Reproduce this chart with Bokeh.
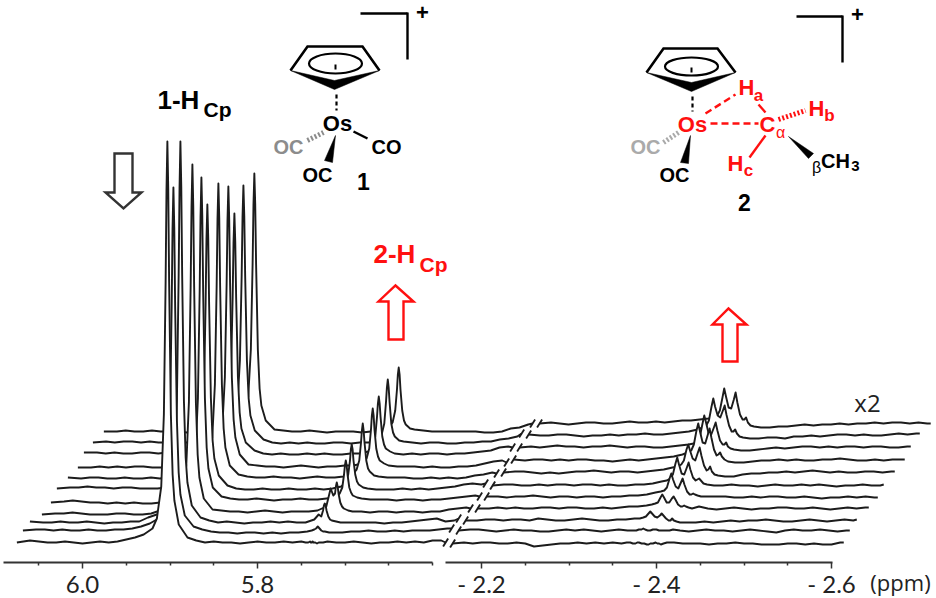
from bokeh.plotting import figure
from bokeh.models import LinearAxis, FixedTicker, Range1d
from bokeh.core.properties import value
from bokeh.embed import file_html
from bokeh.resources import INLINE

# ---------- axis ----------
major_ppm_left = [6.0, 5.8]
major_ppm_right = [-2.2, -2.4, -2.6]
minor_ppm_left = [6.05, 5.95, 5.9, 5.85, 5.75, 5.7, 5.65, 5.6]
minor_ppm_right = [-2.25, -2.3, -2.35, -2.45, -2.5, -2.55]
major_labels = ["6.0", "5.8", "- 2.2", "- 2.4", "- 2.6"]
panel_gap = 0.456            # axis length kept for the section left of the break

# ---------- shared chemical-shift grids ----------
ppm_left = [6.075, 6.06, 6.05, 6.04, 6.03, 6.02, 6.01, 6.00, 5.99, 5.98, 5.97, 5.96, 5.95,
            5.94, 5.93, 5.92, 5.915, 5.91, 5.907, 5.905, 5.904, 5.903, 5.902, 5.901, 5.899, 5.897, 5.895, 5.89, 5.88, 5.87,
            5.86, 5.85, 5.84, 5.83, 5.82, 5.81, 5.80, 5.79, 5.78, 5.77,
            5.76, 5.75, 5.745, 5.742, 5.74, 5.739, 5.738, 5.737, 5.736, 5.734, 5.732, 5.73, 5.725, 5.72, 5.71,
            5.70, 5.69, 5.68, 5.67, 5.66, 5.65, 5.64, 5.63, 5.62, 5.61, 5.60, 5.59, 5.585]
ppm_right = [-2.167, -2.18, -2.19, -2.20, -2.21, -2.22, -2.23, -2.24, -2.25, -2.26, -2.27, -2.28, -2.29, -2.30, -2.31, -2.32, -2.33, -2.34, -2.35,
             -2.36, -2.366, -2.37, -2.373, -2.376, -2.378, -2.38, -2.383, -2.386, -2.389, -2.391, -2.393, -2.396, -2.399, -2.401, -2.403, -2.405, -2.408, -2.412, -2.42, -2.43,
             -2.44, -2.45, -2.46, -2.47, -2.48, -2.49, -2.50, -2.51, -2.52, -2.53, -2.54, -2.55, -2.56, -2.57, -2.58, -2.59, -2.60, -2.61, -2.614]

# ---------- stacking of the eleven spectra (front to back) ----------
stack_shift_ppm = [0, .0069, .0149, .0286, .0389, .0457, .0583, .0697, .0766, .0869, .0994]
stack_base_left = [20, 32, 40, 48, 60, 74, 84, 95, 109, 120, 130]
stack_base_right = [19, 32, 42, 54, 65, 77, 90, 102, 115, 127, 139]

# ---------- intensities, 1-HCp / 2-HCp section ----------
left_t01 = [0, 2, 1, 0, 0, 1, 0, -1, 0, 1, 0, 1, 3,
            5, 8, 14, 24, 56, 128, 261, 353, 401, 353, 261, 128, 68, 42, 18, 5, 2,
            0, 1, 0, 0, -1, 0, 1, 0, 0, 1,
            0, 1, 0, 0, 1, 0, 0, 1, 0, 0, -1, 0, 0, 1, 0,
            0, 1, 0, -1, 0, 0, 1, 0, 1, 0, 2, 2, 0]
left_t02 = [0, 1, 1, 0, 1, 0, 0, 1, 0, 0, 1, 1, 2,
            4, 7, 12, 21, 48, 110, 223, 302, 343, 302, 223, 110, 58, 36, 15, 4, 1,
            -1, -2, -2, -3, -2, -2, -3, -2, -3, -2,
            -2, -1, 0, 1, 2, 3, 4, 3, 2, 0, -1, -1, -2, -2, -2,
            -1, -1, 0, -1, -1, 0, -1, 0, 0, 0, 1, 2, 2]
left_t03 = [1, 0, 0, 1, 0, 0, 1, 0, -1, 0, 0, 1, 1,
            5, 8, 13, 23, 53, 122, 248, 335, 381, 335, 248, 122, 65, 40, 17, 5, 2,
            0, 1, 0, -1, 0, 0, 1, 0, 1, 0,
            0, 3, 8, 6, 12, 17, 19, 17, 12, 6, 3, 2, 1, 0, 0,
            0, 0, 0, -1, 0, 0, 1, 2, 3, 4, 1, 2, 4]
left_t04 = [0, 1, 1, 2, 1, 0, 0, 0, 1, 1, 0, 0, 1,
            4, 7, 12, 21, 49, 112, 228, 308, 350, 308, 228, 112, 60, 37, 16, 5, 4,
            3, 3, 2, 3, 4, 3, 2, 3, 3, 3,
            4, 8, 26, 19, 21, 28, 32, 28, 21, 12, 8, 6, 4, 3, 3,
            2, 3, 3, 2, 3, 3, 2, 3, 3, 5, 6, 7, 6]
left_t05 = [0, 1, 2, 1, 0, 0, -1, 0, -1, 0, -1, -1, 0,
            4, 7, 11, 20, 46, 104, 211, 286, 325, 286, 211, 104, 55, 34, 15, 6, 4,
            3, 3, 4, 3, 2, 3, 3, 4, 3, 3,
            4, 5, 9, 15, 28, 37, 42, 37, 28, 15, 10, 7, 5, 4, 3,
            3, 3, 2, 3, 3, 2, 3, 3, 4, 5, 6, 7, 6]
left_t06 = [0, 1, 1, 2, 1, 1, 0, 1, 1, 0, 0, 0, 1,
            3, 6, 10, 17, 40, 91, 185, 250, 284, 250, 185, 91, 48, 30, 13, 3, 0,
            -1, -1, 0, -1, -1, 0, -1, -1, 0, -1,
            0, 2, 6, 14, 28, 39, 44, 39, 28, 14, 7, 4, 1, 0, -1,
            -1, -1, 0, -1, 0, -1, 0, 1, 2, 4, 5, 4, 5]
left_t07 = [1, 0, 1, 1, 0, 0, 1, 0, 0, 1, 0, 1, 1,
            4, 6, 10, 18, 41, 94, 192, 260, 295, 260, 192, 94, 50, 31, 13, 4, 2,
            1, 1, 2, 1, 1, 0, 1, 2, 1, 1,
            2, 4, 9, 18, 36, 48, 55, 48, 36, 18, 10, 7, 3, 2, 1,
            1, 1, 0, 0, 1, 0, 1, 0, 1, 3, 4, 6, 5]
left_t08 = [0, 0, 1, 0, 1, 0, 1, 1, 0, 0, 1, 0, 1,
            3, 6, 10, 17, 39, 90, 183, 247, 281, 247, 183, 90, 48, 30, 13, 3, 2,
            1, 1, 0, 1, 2, 1, 0, 1, 1, 2,
            2, 4, 9, 19, 38, 52, 59, 52, 38, 19, 11, 7, 4, 2, 1,
            1, 1, 0, 1, 0, 0, 1, 1, 2, 4, 6, 7, 5]
left_t09 = [1, 1, 0, 1, 0, 0, 1, 1, 0, 1, 0, 0, 1,
            3, 5, 8, 14, 34, 77, 156, 211, 240, 211, 156, 77, 41, 25, 11, 3, 0,
            -1, 0, -1, -1, 0, -1, 0, -1, -1, 0,
            0, 2, 7, 17, 37, 50, 57, 50, 37, 17, 9, 5, 2, 0, -1,
            0, -1, 0, 0, -1, 0, 0, 1, 2, 3, 6, 7, 6]
left_t10 = [0, 1, 0, 1, 1, 0, 1, 0, 0, 1, 0, 0, 1,
            3, 5, 9, 15, 36, 82, 167, 226, 257, 226, 167, 82, 44, 27, 12, 3, 0,
            -1, 0, -1, 0, -1, -1, 0, 0, -1, 0,
            0, 2, 8, 19, 41, 55, 63, 55, 41, 19, 10, 6, 2, 1, 0,
            -1, 0, 0, -1, -1, 0, 0, 1, 1, 3, 4, 6, 9]
left_t11 = [1, 1, 2, 1, 1, 2, 1, 1, 1, 0, 0, 0, 1,
            3, 5, 9, 16, 36, 83, 168, 228, 259, 228, 168, 83, 44, 27, 12, 3, 2,
            1, 1, 2, 1, 0, 1, 1, 1, 0, 1,
            2, 4, 10, 22, 43, 58, 65, 58, 43, 22, 12, 8, 4, 3, 2,
            1, 1, 1, 1, 1, 1, 0, 0, 1, 4, 5, 8, 9]

# ---------- intensities, hydride section (x2) ----------
right_t01 = [0, 1, 0, 1, 1, 0, 0, 1, 0, -3, -2, -1, 0, 0, 1, 0, 1, 0, 1,
             0, 1, 1, 0, 0, 1, 1, 0, 0, -1, -1, 0, 0, 1, 0, 0, -1, 0, 1, 1, 0,
             0, 0, -1, 0, 0, 1, 0, 0, -1, -1, -1, 0, 0, -1, 0, -1, -1, 1, 1]
right_t02 = [0, 1, 1, 0, -1, 0, 1, 0, 0, -1, -1, 0, 1, 0, 1, 0, -1, 0, 1,
             0, 0, 0, 1, 1, 2, 1, 0, 0, 1, 1, 1, 0, 0, 0, 0, 0, 0, 1, 0, -1,
             0, 1, 0, 0, -1, 0, 1, 0, -1, -2, 0, 1, 0, 0, 1, 0, -1, 0, 0]
right_t03 = [0, 0, 1, 1, 0, 1, 1, 0, 2, 1, 0, 0, 1, 2, 1, 0, 0, 1, 1,
             2, 2, 3, 4, 7, 9, 7, 4, 3, 5, 7, 5, 2, 0, 0, 2, 0, -1, -2, -2, -2,
             -1, -2, -1, 0, -1, 0, 0, 1, 0, -1, -1, 0, 1, 0, -1, 0, 1, 0, 1]
right_t04 = [0, 0, 1, 0, 1, 0, 0, 1, 1, 0, 1, 1, 0, 0, 1, 0, 1, 2, 2,
             3, 4, 5, 6, 11, 14, 11, 6, 6, 10, 12, 9, 4, 2, 2, 3, 2, 1, 0, 2, 0,
             -1, 0, 1, 0, -1, 0, 0, 1, 1, 0, 0, 1, 0, -1, 0, 1, 0, 1, 1]
right_t05 = [1, 1, 0, 1, 1, 2, 1, 0, 1, 1, 0, 1, 1, 0, 1, 1, 2, 2, 3,
             5, 6, 7, 10, 19, 24, 18, 11, 9, 15, 19, 13, 6, 3, 3, 4, 3, 2, 1, 1, 1,
             1, 0, 0, 1, 0, 1, 1, 0, 0, 1, 0, -1, 0, 0, 1, 0, 1, 0, 0]
right_t06 = [0, 1, 1, 0, 0, 1, 0, 1, 1, 0, 1, 1, 0, 1, 0, 0, 1, 1, 2,
             4, 5, 7, 11, 22, 28, 21, 12, 11, 18, 23, 16, 8, 5, 6, 7, 5, 2, 1, 0, 0,
             1, 0, 0, -1, 0, 1, 0, 0, 1, 0, 1, 0, -1, 0, 0, 1, 0, 0, 1]
right_t07 = [0, 1, 1, 0, -1, 0, -1, 0, 1, 1, 2, 1, 0, 1, 1, 0, 1, 2, 3,
             5, 6, 8, 12, 23, 28, 22, 14, 12, 20, 25, 17, 7, 2, 3, 6, 1, -2, -3, -4, -4,
             -2, -1, -1, 0, 0, 1, 0, 1, 2, 1, 0, 1, 0, 0, 1, 1, 0, 1, 1]
right_t08 = [1, 0, 1, 1, 0, 1, 0, 1, 1, 0, 0, -1, 0, 1, 0, 1, 2, 3, 4,
             6, 8, 10, 16, 30, 37, 29, 18, 17, 26, 32, 23, 11, 5, 6, 8, 4, 1, -1, -2, -2,
             -1, 0, 0, 1, 0, 1, 0, 0, 1, 1, 2, 1, 0, 0, 1, 0, 1, 1, 1]
right_t09 = [0, 1, 0, 1, 2, 1, 1, 0, 1, 1, 2, 1, 0, 1, 1, 0, 0, 1, 2,
             3, 4, 6, 11, 24, 32, 25, 14, 13, 20, 25, 17, 7, 3, 3, 5, 1, -1, -2, -3, -3,
             -2, -1, 0, -1, 0, 1, 1, 0, 1, 0, 1, 1, 0, 1, 1, 0, 0, 1, 1]
right_t10 = [1, 0, 0, 1, 1, 0, -1, 0, 0, 1, 0, 1, 1, 2, 1, 1, 2, 3, 4,
             6, 8, 10, 15, 29, 37, 29, 20, 18, 25, 30, 21, 10, 4, 4, 6, 2, -1, -2, -3, -3,
             -2, -2, -3, -1, -1, 0, -1, 0, 1, 1, 0, 1, 0, 0, 1, 2, 1, 2, 2]
right_t11 = [0, 1, 0, -1, 0, 1, 1, 0, 0, 1, 2, 1, 1, 2, 1, 2, 3, 3, 4,
             5, 6, 8, 13, 26, 35, 27, 16, 15, 24, 31, 21, 9, 4, 4, 6, 1, -2, -3, -4, -4,
             -3, -3, -2, -1, -2, -1, -1, 0, -1, 0, 0, 1, 0, 1, 1, 0, 1, 0, 0]

traces_left = [left_t01, left_t02, left_t03, left_t04, left_t05, left_t06, left_t07, left_t08, left_t09, left_t10, left_t11]
traces_right = [right_t01, right_t02, right_t03, right_t04, right_t05, right_t06, right_t07, right_t08, right_t09, right_t10, right_t11]

INK = "#1c1c1c"
RED = "#ff1010"
GREY = "#8c8c8c"
PX = 875.0   # frame pixels per ppm


def pos(ppm):
    """Position on the broken axis."""
    return 6.0 - ppm if ppm > 0 else panel_gap + (-2.2 - ppm)


p = figure(width=936, height=598, output_backend="svg", toolbar_location=None,
           x_axis_location=None, y_axis_location=None, min_border=0,
           x_range=Range1d(-82 / PX, 854 / PX), y_range=Range1d(-36, 562))
p.outline_line_color = None
p.xgrid.visible = False
p.ygrid.visible = False
p.background_fill_color = "white"
p.border_fill_color = "white"
p.extra_x_ranges["img"] = Range1d(0, 936)
p.extra_y_ranges["img"] = Range1d(598, 0)

axis = LinearAxis(fixed_location=0)
major_pos = [pos(v) for v in major_ppm_left + major_ppm_right]
minor_pos = [pos(v) for v in minor_ppm_left + minor_ppm_right]
axis.ticker = FixedTicker(ticks=major_pos, minor_ticks=minor_pos)
axis.major_label_overrides = {k: v for k, v in zip(major_pos, major_labels)}
axis.bounds = (-79 / PX, 0.857)
axis.axis_line_color = "#333333"
axis.axis_line_width = 1.8
axis.axis_line_dash = "429 13 900"
axis.major_tick_line_color = "#333333"
axis.minor_tick_line_color = "#333333"
axis.major_tick_line_width = 1.5
axis.minor_tick_line_width = 1.5
axis.major_tick_in = 0
axis.major_tick_out = 6
axis.minor_tick_in = 0
axis.minor_tick_out = 3
axis.major_label_text_font = "Lato"
axis.major_label_text_font_size = "24px"
axis.major_label_text_color = "#222222"
axis.major_label_standoff = 0
p.add_layout(axis, "below")

# ---------- spectra, back to front ----------
for k in range(10, -1, -1):
    left = traces_left[k]
    right = traces_right[k]
    assert len(left) == len(ppm_left), ("left", k, len(left))
    assert len(right) == len(ppm_right), ("right", k, len(right))
    shift = stack_shift_ppm[k]
    xl = [pos(v) + shift for v in ppm_left]
    xr = [pos(v) + shift for v in ppm_right]
    yl = [stack_base_left[k] + v for v in left]
    yr = [stack_base_right[k] + v for v in right]
    p.varea(xl, y1=yl, y2=[stack_base_left[k] - 4] * len(xl), fill_color="white")
    p.varea(xr, y1=yr, y2=[stack_base_right[k] - 4] * len(xr), fill_color="white")
    p.line(xl, yl, line_color=INK, line_width=1.9, line_join="round")
    p.line(xr, yr, line_color=INK, line_width=1.9, line_join="round")
    dx, dy = 2.5 / PX, 4
    p.segment([xl[-1] - dx, xr[0] - dx], [yl[-1] - dy, yr[0] - dy],
              [xl[-1] + dx, xr[0] + dx], [yl[-1] + dy, yr[0] + dy],
              line_color=INK, line_width=1.9)

I = dict(x_range_name="img", y_range_name="img")


def txt(x, y, s, size, color="black", bold=True, font="Liberation Sans", align="center"):
    p.text([x], [y], text=[s], text_font=value(font), text_font_size=f"{size}px",
           text_font_style="bold" if bold else "normal", text_color=color,
           text_align=align, text_baseline="middle", **I)


def seg(x0, y0, x1, y1, color="black", w=2.4, dash="solid"):
    p.line([x0, x1], [y0, y1], line_color=color, line_width=w, line_dash=dash, **I)


def outline(xs, ys, color, w=2.4):
    p.patch(xs, ys, fill_color="white", fill_alpha=1, line_color=color, line_width=w, line_join="miter", **I)


def wedge(xs, ys, color="black"):
    p.patch(xs, ys, fill_color=color, line_color=color, line_width=0.5, **I)


def ring(x0, x1, x2, x3, x4, ytop, ymid, ytip, cx, cy, w, h):
    p.line([x0, x1, x3, x4], [ymid, ytop, ytop, ymid], line_color="black", line_width=2.6, line_join="miter", **I)
    wedge([x0, x2, x4, x2], [ymid, ytip, ymid, ytip - 9])
    p.ellipse([cx], [cy], width=w, height=h, fill_color=None, line_color="black", line_width=2.2, **I)
    seg(cx, cy + 1, cx, cy + 6, w=2)


# ---------- structure 1 ----------
seg(360, 13, 407, 13); seg(407, 12, 407, 59)
txt(422, 12, "+", 22)
ring(290, 307, 334, 362, 379, 46, 70, 89, 335, 63, 53, 20)
seg(336, 94, 336, 110, w=2.2, dash="4 3")
txt(337, 123, "Os", 22)
txt(288, 146, "OC", 20, GREY)
seg(307, 140, 323, 132, GREY, w=5, dash="2 2")
txt(386, 146, "CO", 20)
seg(353, 131, 367, 138, w=2.4)
wedge([335, 324, 332], [135, 160, 162])
txt(317, 174, "OC", 20)
txt(363, 181, "1", 23)

# ---------- structure 2 ----------
seg(796, 16, 842, 16); seg(842, 15, 842, 62)
txt(857, 14, "+", 22)
ring(646, 663, 691, 717, 735, 48, 72, 91, 691, 66, 53, 18)
seg(692, 96, 692, 111, w=2.2, dash="4 3")
txt(692, 124, "Os", 22, RED)
txt(645, 146, "OC", 20, "#aaaaaa")
seg(663, 142, 678, 132, "#aaaaaa", w=5, dash="2 2")
wedge([690, 680, 688], [135, 162, 163])
txt(674, 174, "OC", 20)
seg(705, 113, 735, 94, RED, w=2.4, dash="7 4")
seg(710, 123, 758, 123, RED, w=2.4, dash="7 4")
txt(746, 87, "H", 22, RED); txt(758, 95, "a", 17, RED)
seg(758, 104, 765, 112, RED, w=2.4)
txt(767, 124, "C", 22, RED); txt(780, 132, "\u03b1", 16, RED, bold=False)
txt(816, 108, "H", 22, RED); txt(829, 115, "b", 17, RED)
seg(778, 119, 805, 110, RED, w=5, dash="2 2")
txt(735, 163, "H", 22, RED); txt(748, 170, "c", 17, RED)
seg(765, 135, 749, 157, RED, w=2.4)
wedge([788, 808, 813], [136, 158, 153])
txt(816, 167, "\u03b2", 16, "black", bold=False)
txt(835, 160, "CH", 20); txt(855, 165, "3", 15)
txt(744, 202, "2", 23)

# ---------- peak labels and arrows ----------
txt(157, 99, "1-H", 26, align="left")
txt(203, 109, "Cp", 21, align="left")
txt(373, 253, "2-H", 26, RED, align="left")
txt(419, 264, "Cp", 21, RED, align="left")
outline([114, 132, 132, 141, 123, 105, 114], [153, 153, 192, 192, 208, 192, 192], "#333333")
outline([388, 403, 403, 413, 395, 378, 388], [339, 339, 301, 301, 285, 301, 301], RED)
outline([722, 737, 737, 746, 728, 712, 722], [361, 361, 324, 324, 308, 324, 324], RED)
txt(867, 402, "x2", 24, "#222222", bold=False, font="Open Sans")
txt(900, 581, "(ppm)", 22, "#222222", bold=False, font="Open Sans")

open("out.html", "w").write(file_html(p, INLINE))
